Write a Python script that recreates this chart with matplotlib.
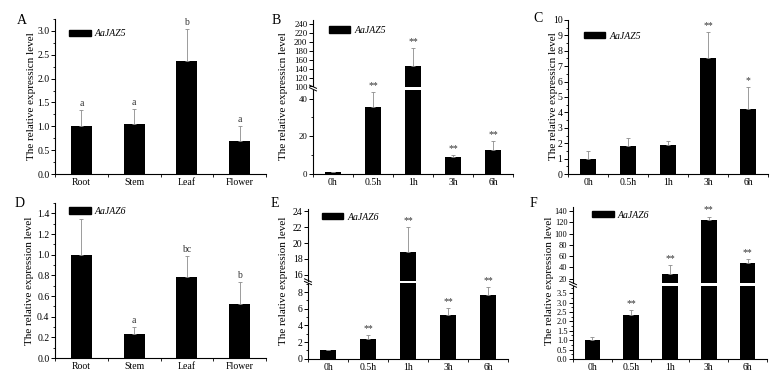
import numpy as np
import matplotlib
matplotlib.use("Agg")
import matplotlib.pyplot as plt
from matplotlib.ticker import MultipleLocator, FixedLocator
from matplotlib.lines import Line2D

# ---- data ----
tissues = ["Root", "Stem", "Leaf", "Flower"]
times = ["0h", "0.5h", "1h", "3h", "6h"]

a_mean = [1.0, 1.05, 2.37, 0.69]
a_err = [0.34, 0.32, 0.66, 0.32]
a_sig = ["a", "a", "b", "a"]

b_mean = [1.0, 35.4, 146, 8.8, 12.9]
b_err = [0.3, 8.1, 39, 1.4, 4.4]
b_sig = ["", "**", "**", "**", "**"]

c_mean = [0.95, 1.84, 1.87, 7.52, 4.21]
c_err = [0.57, 0.49, 0.27, 1.70, 1.45]
c_sig = ["", "", "", "**", "*"]

d_mean = [1.0, 0.235, 0.785, 0.525]
d_err = [0.35, 0.065, 0.20, 0.21]
d_sig = ["c", "a", "bc", "b"]

e_mean = [1.0, 2.35, 18.9, 5.25, 7.65]
e_err = [0.05, 0.50, 3.1, 0.85, 0.95]
e_sig = ["", "**", "**", "**", "**"]

f_mean = [1.0, 2.32, 27.8, 124, 48.4]
f_err = [0.16, 0.27, 16.5, 6.0, 7.0]
f_sig = ["", "**", "**", "**", "**"]

# ---- style ----
plt.rcParams.update({
    "font.family": ["Liberation Serif", "DejaVu Serif"],
    "font.size": 7,
    "axes.linewidth": 0.8,
    "xtick.labelsize": 7,
    "ytick.labelsize": 7,
})

W, H = 774, 376
fig = plt.figure(figsize=(W / 100, H / 100), dpi=100)
fig.patch.set_facecolor("white")

err_color = "#8c8c8c"


def px_axes(left, top, right, bottom):
    ax = fig.add_axes([left / W, 1 - bottom / H, (right - left) / W, (bottom - top) / H])
    ax.patch.set_visible(False)
    return ax


def base_style(ax, show_x=True):
    ax.spines["top"].set_visible(False)
    ax.spines["right"].set_visible(False)
    ax.tick_params(axis="y", which="major", direction="out", length=3, width=0.7, pad=1)
    ax.tick_params(axis="y", which="minor", direction="out", length=1.5, width=0.6)
    if not show_x:
        ax.spines["bottom"].set_visible(False)
        ax.set_xticks([])
        ax.tick_params(axis="x", which="both", length=0)


def draw_bars(ax, labels, mean, err, sig):
    x = np.arange(len(labels))
    ax.bar(x, mean, width=0.4, color="black", zorder=2)
    ax.errorbar(x, mean, yerr=[np.zeros(len(err)), err], fmt="none",
                ecolor=err_color, elinewidth=0.6, capsize=1.2, capthick=0.6, zorder=3)
    for xi, m, e, s in zip(x, mean, err, sig):
        if s:
            ax.annotate(s, (xi, m + e), xytext=(0, 1.5), textcoords="offset points",
                        ha="center", va="bottom", fontsize=7, color="#333333")
    ax.set_xlim(-0.5, len(labels) - 0.5)


def x_axis(ax, labels):
    n = len(labels)
    ax.xaxis.set_major_locator(FixedLocator(np.arange(n)))
    ax.set_xticklabels(labels)
    ax.xaxis.set_minor_locator(FixedLocator(np.arange(n + 1) - 0.5))
    ax.tick_params(axis="x", which="major", length=0, pad=3)
    ax.tick_params(axis="x", which="minor", direction="out", length=2.5, width=0.6)


def add_legend(ax, gene, anchor):
    h = plt.Rectangle((0, 0), 1, 1, color="black")
    ax.legend([h], [gene], loc="upper left", bbox_to_anchor=anchor, frameon=False,
              handlelength=2.2, handleheight=0.6, handletextpad=0.4,
              prop={"style": "italic", "size": 7}, borderaxespad=0)


def ylabel(x, y, text):
    fig.text(x / W, 1 - y / H, text, rotation=90, ha="center", va="center", fontsize=8)


def letter(x, y, text):
    fig.text(x / W, 1 - y / H, text, ha="center", va="center", fontsize=10)


def break_marks(x, y):
    for d in (-1.3, 1.3):
        x0, y0 = x - 3.5, y + d - 1.6
        x1, y1 = x + 3.5, y + d + 1.6
        fig.add_artist(Line2D([x0 / W, x1 / W], [1 - y0 / H, 1 - y1 / H],
                              transform=fig.transFigure, color="black", lw=0.7))


def simple_panel(box, labels, mean, err, sig, ylim, major, minor, gene, anchor):
    ax = px_axes(*box)
    draw_bars(ax, labels, mean, err, sig)
    ax.set_ylim(*ylim)
    ax.yaxis.set_major_locator(MultipleLocator(major))
    ax.yaxis.set_minor_locator(MultipleLocator(minor))
    base_style(ax)
    x_axis(ax, labels)
    add_legend(ax, gene, anchor)
    return ax


def broken_panel(left, right, low_box, up_box, labels, mean, err, sig,
                 low_lim, up_lim, low_ticks, up_ticks, fmt, gene, anchor, ysize=7):
    lo = px_axes(left, low_box[0], right, low_box[1])
    up = px_axes(left, up_box[0], right, up_box[1])
    for ax in (lo, up):
        draw_bars(ax, labels, mean, err, sig)
    lo.set_ylim(*low_lim)
    up.set_ylim(*up_lim)
    lo.yaxis.set_major_locator(MultipleLocator(low_ticks[0]))
    lo.yaxis.set_minor_locator(MultipleLocator(low_ticks[1]))
    up.yaxis.set_major_locator(FixedLocator(up_ticks))
    lo.yaxis.set_major_formatter(fmt)
    base_style(lo)
    base_style(up, show_x=False)
    for ax in (lo, up):
        ax.tick_params(axis="y", labelsize=ysize)
    x_axis(lo, labels)
    add_legend(up, gene, anchor)
    break_marks(left, (low_box[0] + up_box[1]) / 2)
    return lo, up


# ---- A ----
simple_panel((55, 19, 266, 174), tissues, a_mean, a_err, a_sig,
             (0, 3.25), 0.5, 0.25, "AaJAZ5", (0.05, 0.96))
ylabel(32, 96, "The relative expressicn level")
letter(22, 20, "A")

# ---- B ----
broken_panel(313, 513, (89.5, 174), (20, 86.5), times, b_mean, b_err, b_sig,
             (0, 44.8), (100, 248), (20, 10), np.arange(100, 241, 20), "{x:.0f}",
             "AaJAZ5", (0.06, 0.97), ysize=6.3)
ylabel(283, 96, "The relative expressicn level")
letter(276, 20, "B")

# ---- C ----
simple_panel((568, 20, 768, 174), times, c_mean, c_err, c_sig,
             (0, 10), 1, 0.5, "AaJAZ5", (0.06, 0.95))
ylabel(553, 96, "The relative expressicn level")
letter(538, 19, "C")

# ---- D ----
simple_panel((55, 203, 266, 358), tissues, d_mean, d_err, d_sig,
             (0, 1.5), 0.2, 0.1, "AaJAZ6", (0.05, 1.0))
ylabel(29, 281, "The relative expression level")
letter(20, 204, "D")

# ---- E ----
broken_panel(308, 508, (283, 358.7), (208.7, 280.5), times, e_mean, e_err, e_sig,
             (0, 9.1), (15.3, 24.3), (2, 1), np.arange(16, 25, 2), "{x:.0f}",
             "AaJAZ6", (0.05, 1.0))
ylabel(283, 281, "The relative expression level")
letter(275, 204, "E")

# ---- F ----
broken_panel(573, 767, (286, 359), (206.7, 282.7), times, f_mean, f_err, f_sig,
             (0, 3.88), (12.9, 147.6), (0.5, 0.25), np.arange(20, 141, 20), "{x:.1f}",
             "AaJAZ6", (0.08, 1.0), ysize=6.0)
ylabel(550, 281, "The relative expression level")
letter(533, 204, "F")

fig.savefig("out.png", dpi=100, facecolor="white")
